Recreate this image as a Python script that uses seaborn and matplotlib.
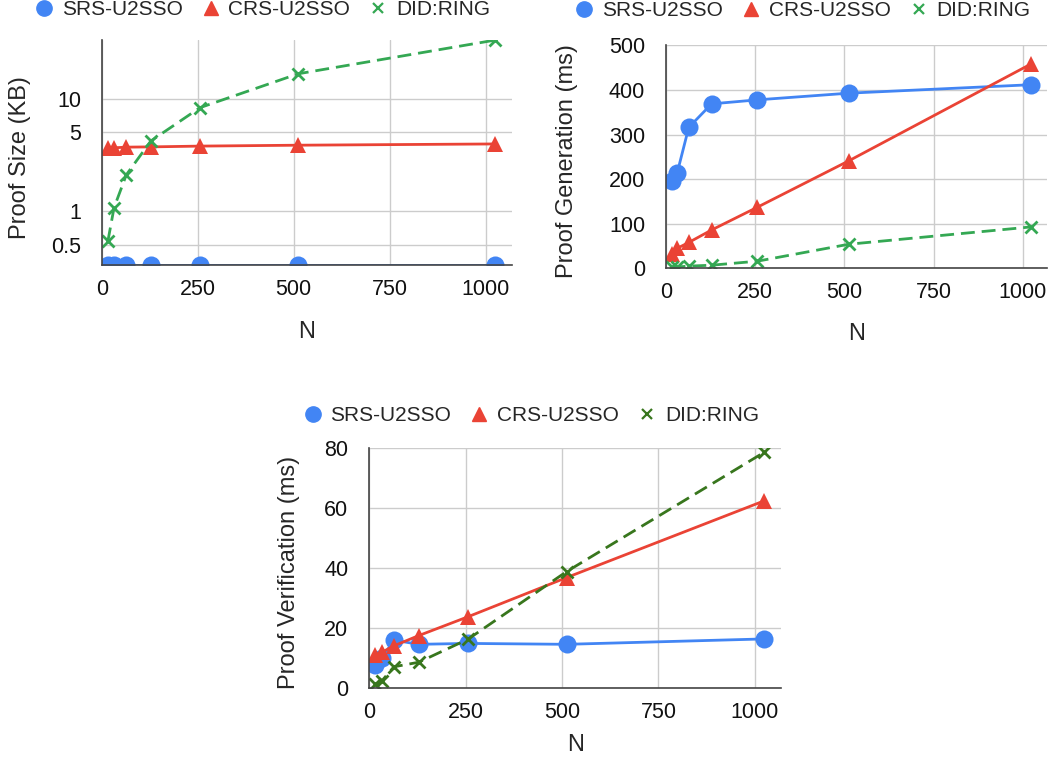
import numpy as np
import matplotlib
matplotlib.use("Agg")
import matplotlib.pyplot as plt
from matplotlib.lines import Line2D
from matplotlib.ticker import FixedLocator, NullLocator, FixedFormatter
import seaborn as sns

# data
N = [16, 32, 64, 128, 256, 512, 1024]
series = ["SRS-U2SSO", "CRS-U2SSO", "DID:RING"]

srs_size = [0.33, 0.33, 0.33, 0.33, 0.33, 0.33, 0.33]
crs_size = [3.6, 3.65, 3.7, 3.72, 3.78, 3.85, 3.95]
did_size = [0.54, 1.07, 2.1, 4.2, 8.3, 16.6, 33.0]

srs_gen = [195, 215, 316, 369, 378, 393, 412]
crs_gen = [32, 45, 58, 86, 137, 241, 459]
did_gen = [2, 3, 5, 7, 16, 54, 93]

srs_ver = [7.6, 9.8, 15.9, 14.5, 14.8, 14.5, 16.3]
crs_ver = [10.9, 11.8, 14.0, 17.4, 23.7, 36.8, 62.4]
did_ver = [1.1, 2.2, 7.0, 8.5, 16.2, 38.8, 78.6]

x_ticks = [0, 250, 500, 750, 1000]

BLUE = "#4285F4"
RED = "#EA4335"
GREEN = "#34A853"
DKGREEN = "#38761D"

sns.set_style("whitegrid", {"grid.color": "#cccccc"})
plt.rcParams['font.family'] = ['Liberation Sans', 'DejaVu Sans']

fig = plt.figure(figsize=(10.62, 7.58), dpi=100)
ax1 = fig.add_axes([0.0958, 0.650, 0.386, 0.297])
ax2 = fig.add_axes([0.627, 0.646, 0.359, 0.294])
ax3 = fig.add_axes([0.3477, 0.0927, 0.3877, 0.316])


def draw(ax, srs, crs, did, green):
    sns.lineplot(x=N, y=srs, ax=ax, color=BLUE, marker="o", markersize=13,
                 markeredgecolor=BLUE, markeredgewidth=0, linewidth=2)
    sns.lineplot(x=N, y=crs, ax=ax, color=RED, marker="^", markersize=11.5,
                 markeredgecolor=RED, markeredgewidth=0, linewidth=2)
    sns.lineplot(x=N, y=did, ax=ax, color=green, marker="x", markersize=9,
                 markeredgecolor=green, markeredgewidth=2, linewidth=2,
                 linestyle=(0, (5, 2.5)))


def style(ax, ylabel, xlabel_pad, ylab_x):
    ax.set_xlim(0, 1068)
    ax.set_xticks(x_ticks)
    ax.set_xlabel("N", fontsize=17, labelpad=xlabel_pad)
    ax.set_ylabel(ylabel, fontsize=17)
    ax.yaxis.set_label_coords(ylab_x, 0.48)
    ax.tick_params(axis="both", labelsize=15.5, length=0, labelcolor="#111111")
    ax.tick_params(axis="x", pad=10)
    ax.tick_params(axis="y", pad=15)
    ax.grid(True, color="#cccccc", linewidth=1)
    for s in ["top", "right"]:
        ax.spines[s].set_visible(False)
    for s in ["left", "bottom"]:
        ax.spines[s].set_color("#444444")
        ax.spines[s].set_linewidth(1.2)
    if ax.get_legend() is not None:
        ax.get_legend().remove()


def legend(ax, cx, cy, green):
    handles = [
        Line2D([], [], linestyle="none", marker="o", markersize=11, color=BLUE),
        Line2D([], [], linestyle="none", marker="^", markersize=9.5, color=RED),
        Line2D([], [], linestyle="none", marker="x", markersize=7,
               markeredgewidth=1.6, color=green),
    ]
    ax.legend(handles, series, loc="center", bbox_to_anchor=(cx, cy),
              bbox_transform=fig.transFigure, ncol=3, frameon=False,
              fontsize=15, handlelength=0.9, handletextpad=0.4,
              columnspacing=0.9)


# proof size (log)
draw(ax1, srs_size, crs_size, did_size, GREEN)
style(ax1, "Proof Size (KB)", 15, -0.172)
ax1.set_yscale("log")
ax1.set_ylim(0.33, 33)
ax1.yaxis.set_major_locator(FixedLocator([0.5, 1, 5, 10]))
ax1.yaxis.set_major_formatter(FixedFormatter(["0.5", "1", "5", "10"]))
ax1.yaxis.set_minor_locator(NullLocator())
legend(ax1, 0.247, 0.9875, GREEN)

# proof generation
draw(ax2, srs_gen, crs_gen, did_gen, GREEN)
style(ax2, "Proof Generation (ms)", 14, -0.23)
ax2.set_ylim(0, 500)
ax2.set_yticks([0, 100, 200, 300, 400, 500])
legend(ax2, 0.756, 0.986, GREEN)

# proof verification
draw(ax3, srs_ver, crs_ver, did_ver, DKGREEN)
style(ax3, "Proof Verification (ms)", 8, -0.168)
ax3.set_ylim(0, 80)
ax3.set_yticks([0, 20, 40, 60, 80])
legend(ax3, 0.5, 0.4516, DKGREEN)

fig.savefig("out.png", dpi=100)
